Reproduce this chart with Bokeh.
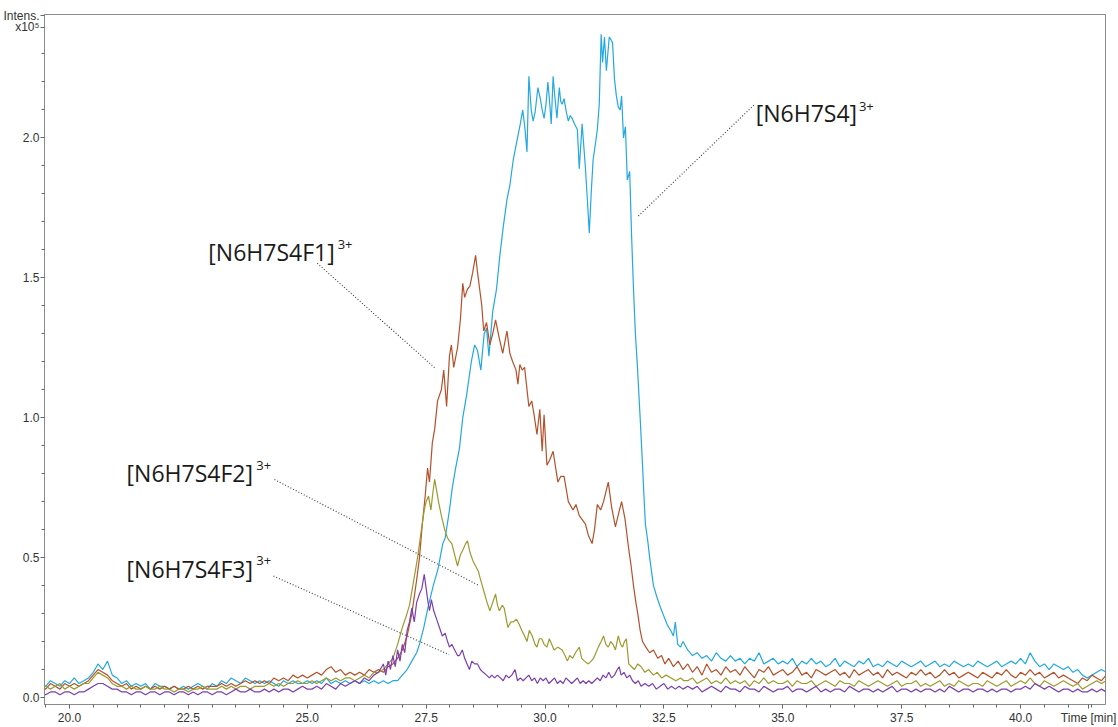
import numpy as np
from bokeh.plotting import figure
from bokeh.models import (Range1d, FixedTicker, PrintfTickFormatter,
                          Label, ColumnDataSource)
from bokeh.embed import file_html
from bokeh.resources import INLINE

# ---------------- data (intensity in units of 1e5, time in min) ----------------
TIME_PRE = np.arange(194, 265) / 10.0      # 19.4 .. 26.4 min sampling grid
TIME_POST = np.arange(330, 420) / 10.0     # 33.0 .. 41.9 min sampling grid

BLUE_PRE = [0.05, 0.04, 0.06, 0.05, 0.04, 0.06, 0.05, 0.07, 0.05, 0.06,
            0.07, 0.09, 0.12, 0.10, 0.13, 0.08, 0.07,
            0.05, 0.06, 0.04, 0.05, 0.04, 0.05, 0.03, 0.05, 0.04, 0.04,
            0.03, 0.04, 0.03, 0.04, 0.03, 0.04, 0.05, 0.04, 0.03, 0.05,
            0.04, 0.06, 0.05, 0.07, 0.06, 0.05, 0.07, 0.06, 0.05, 0.06,
            0.05, 0.06, 0.05, 0.04, 0.06, 0.05, 0.06, 0.05, 0.05, 0.06,
            0.05, 0.06, 0.05, 0.07, 0.05, 0.06, 0.05, 0.06, 0.05, 0.06,
            0.05, 0.06, 0.05, 0.06]
BLUE_PEAK = [(26.5, 0.05), (26.6, 0.06), (26.7, 0.05), (26.8, 0.06), (26.9, 0.06),
             (27.0, 0.08), (27.1, 0.10), (27.2, 0.13), (27.3, 0.16), (27.36, 0.19),
             (27.45, 0.25), (27.55, 0.33), (27.65, 0.40), (27.75, 0.46), (27.85, 0.55),
             (27.9, 0.57), (27.99, 0.67), (28.05, 0.75), (28.12, 0.82), (28.2, 0.89),
             (28.27, 1.00), (28.35, 1.08), (28.45, 1.20), (28.52, 1.26), (28.58, 1.24),
             (28.65, 1.17), (28.72, 1.30), (28.77, 1.32), (28.82, 1.22), (28.9, 1.38),
             (28.98, 1.46), (29.05, 1.58), (29.12, 1.68), (29.2, 1.78), (29.26, 1.83),
             (29.33, 1.92), (29.41, 1.99), (29.48, 2.05), (29.53, 2.10), (29.58, 2.03),
             (29.62, 1.95), (29.66, 2.22), (29.71, 2.10), (29.75, 2.06), (29.79, 2.09),
             (29.85, 2.18), (29.9, 2.14), (29.94, 2.10), (29.98, 2.07), (30.02, 2.12),
             (30.06, 2.20), (30.1, 2.12), (30.13, 2.05), (30.17, 2.22), (30.21, 2.14),
             (30.25, 2.07), (30.3, 2.18), (30.33, 2.13), (30.36, 2.12), (30.4, 2.14),
             (30.45, 2.09), (30.49, 2.06), (30.53, 2.08), (30.57, 2.07), (30.62, 2.05),
             (30.68, 2.03), (30.72, 1.89), (30.78, 2.05), (30.85, 1.89), (30.89, 1.78),
             (30.93, 1.66), (30.97, 1.80), (31.01, 1.92), (31.06, 1.98), (31.1, 2.03),
             (31.14, 2.12), (31.18, 2.37), (31.21, 2.27), (31.25, 2.36), (31.29, 2.24),
             (31.35, 2.36), (31.39, 2.35), (31.42, 2.34), (31.46, 2.21), (31.5, 2.15),
             (31.54, 2.11), (31.58, 2.10), (31.61, 2.15), (31.65, 2.00), (31.69, 2.04),
             (31.73, 1.85), (31.78, 1.88), (31.82, 1.65), (31.86, 1.46), (31.9, 1.30),
             (31.94, 1.19), (32.0, 1.00), (32.05, 0.83), (32.08, 0.72), (32.11, 0.62),
             (32.16, 0.56), (32.2, 0.50), (32.28, 0.40), (32.35, 0.36), (32.43, 0.32),
             (32.5, 0.29), (32.57, 0.26), (32.64, 0.24), (32.7, 0.22), (32.74, 0.27),
             (32.79, 0.19), (32.85, 0.18), (32.9, 0.20)]
BLUE_POST = [0.17, 0.15, 0.16, 0.14, 0.15, 0.13, 0.16, 0.14, 0.13, 0.15,
             0.13, 0.14, 0.12, 0.14, 0.13, 0.16, 0.12, 0.13, 0.14, 0.12,
             0.13, 0.12, 0.14, 0.11, 0.13, 0.12, 0.14, 0.12, 0.13, 0.11,
             0.12, 0.14, 0.11, 0.13, 0.12, 0.11, 0.13, 0.12, 0.14, 0.11,
             0.12, 0.11, 0.13, 0.12, 0.11, 0.13, 0.12, 0.11, 0.12, 0.13,
             0.11, 0.12, 0.13, 0.11, 0.12, 0.11, 0.13, 0.12, 0.11, 0.12,
             0.11, 0.13, 0.12, 0.11, 0.12, 0.13, 0.11, 0.12, 0.13, 0.12,
             0.14, 0.12, 0.16, 0.13, 0.11, 0.12, 0.10, 0.12, 0.11, 0.10,
             0.11, 0.09, 0.10, 0.08, 0.07, 0.08, 0.09, 0.10, 0.09, 0.10]

ORANGE_PRE = [0.04, 0.03, 0.05, 0.04, 0.03, 0.05, 0.04, 0.05, 0.04, 0.05,
              0.06, 0.08, 0.10, 0.09, 0.08, 0.06, 0.05,
              0.04, 0.05, 0.03, 0.04, 0.03, 0.04, 0.03, 0.04, 0.03, 0.04,
              0.03, 0.04, 0.03, 0.03, 0.04, 0.03, 0.04, 0.03, 0.04, 0.04,
              0.04, 0.05, 0.04, 0.05, 0.04, 0.05, 0.06, 0.05, 0.06, 0.05,
              0.06, 0.05, 0.07, 0.06, 0.07, 0.06, 0.08, 0.07, 0.08, 0.07,
              0.08, 0.09, 0.08, 0.10, 0.11, 0.09, 0.10, 0.08, 0.09, 0.08,
              0.09, 0.08, 0.10, 0.09]
ORANGE_PEAK = [(26.5, 0.10), (26.6, 0.09), (26.7, 0.11), (26.8, 0.12), (26.9, 0.14),
               (27.0, 0.17), (27.1, 0.22), (27.2, 0.30), (27.3, 0.42), (27.36, 0.50),
               (27.42, 0.62), (27.48, 0.72), (27.53, 0.82), (27.57, 0.77), (27.63, 0.91),
               (27.68, 0.96), (27.74, 1.06), (27.82, 1.10), (27.87, 1.17), (27.93, 1.04),
               (27.99, 1.22), (28.03, 1.26), (28.08, 1.18), (28.16, 1.25), (28.22, 1.35),
               (28.27, 1.48), (28.31, 1.43), (28.37, 1.46), (28.42, 1.47), (28.48, 1.52),
               (28.54, 1.58), (28.58, 1.52), (28.67, 1.40), (28.71, 1.31), (28.77, 1.34),
               (28.84, 1.26), (28.9, 1.30), (28.96, 1.35), (29.03, 1.29), (29.11, 1.23),
               (29.2, 1.31), (29.26, 1.23), (29.32, 1.20), (29.39, 1.17), (29.43, 1.12),
               (29.47, 1.19), (29.52, 1.17), (29.57, 1.18), (29.66, 1.04), (29.72, 1.06),
               (29.77, 1.01), (29.83, 0.94), (29.89, 1.03), (29.94, 0.88), (29.98, 1.01),
               (30.04, 0.83), (30.1, 0.85), (30.17, 0.88), (30.27, 0.77), (30.33, 0.79),
               (30.4, 0.79), (30.49, 0.70), (30.59, 0.67), (30.65, 0.69), (30.72, 0.65),
               (30.85, 0.62), (30.91, 0.58), (30.99, 0.55), (31.04, 0.60), (31.1, 0.69),
               (31.17, 0.67), (31.23, 0.70), (31.33, 0.77), (31.4, 0.68), (31.48, 0.61),
               (31.55, 0.66), (31.61, 0.70), (31.68, 0.64), (31.76, 0.53), (31.81, 0.47),
               (31.86, 0.40), (31.91, 0.34), (31.95, 0.30), (32.0, 0.24), (32.05, 0.20),
               (32.12, 0.18), (32.2, 0.16), (32.28, 0.17), (32.37, 0.14), (32.45, 0.15),
               (32.52, 0.12), (32.6, 0.14), (32.7, 0.11), (32.8, 0.13), (32.9, 0.10)]
ORANGE_POST = [0.12, 0.09, 0.11, 0.08, 0.12, 0.09, 0.10, 0.08, 0.11, 0.09,
               0.10, 0.08, 0.11, 0.09, 0.07, 0.10, 0.09, 0.11, 0.08, 0.09,
               0.10, 0.08, 0.09, 0.11, 0.08, 0.09, 0.07, 0.10, 0.09, 0.08,
               0.09, 0.10, 0.08, 0.09, 0.07, 0.10, 0.08, 0.09, 0.10, 0.08,
               0.09, 0.07, 0.10, 0.08, 0.09, 0.08, 0.07, 0.09, 0.08, 0.10,
               0.08, 0.09, 0.07, 0.08, 0.10, 0.08, 0.09, 0.07, 0.08, 0.09,
               0.08, 0.07, 0.09, 0.08, 0.07, 0.09, 0.08, 0.10, 0.08, 0.07,
               0.09, 0.08, 0.10, 0.08, 0.09, 0.07, 0.08, 0.09, 0.07, 0.08,
               0.07, 0.06, 0.05, 0.07, 0.06, 0.08, 0.07, 0.06, 0.08, 0.07]

OLIVE_PRE = [0.03, 0.04, 0.03, 0.04, 0.05, 0.03, 0.04, 0.03, 0.04, 0.05,
             0.05, 0.07, 0.09, 0.08, 0.07, 0.05, 0.04,
             0.04, 0.03, 0.04, 0.03, 0.03, 0.04, 0.03, 0.03, 0.04, 0.03,
             0.03, 0.02, 0.03, 0.03, 0.02, 0.03, 0.03, 0.04, 0.03, 0.03,
             0.03, 0.04, 0.03, 0.04, 0.03, 0.04, 0.04, 0.03, 0.04, 0.04,
             0.04, 0.05, 0.04, 0.05, 0.04, 0.05, 0.05, 0.06, 0.05, 0.05,
             0.06, 0.05, 0.06, 0.07, 0.06, 0.07, 0.06, 0.07, 0.07, 0.06,
             0.07, 0.08, 0.07, 0.09]
OLIVE_PEAK = [(26.5, 0.09), (26.6, 0.10), (26.7, 0.12), (26.8, 0.14), (26.9, 0.19),
              (26.95, 0.22), (27.0, 0.25), (27.08, 0.29), (27.15, 0.33), (27.22, 0.40),
              (27.32, 0.50), (27.4, 0.60), (27.46, 0.67), (27.5, 0.70), (27.55, 0.72),
              (27.6, 0.67), (27.64, 0.73), (27.68, 0.78), (27.72, 0.74), (27.76, 0.70),
              (27.82, 0.65), (27.89, 0.60), (27.95, 0.57), (27.99, 0.56), (28.04, 0.55),
              (28.1, 0.51), (28.16, 0.47), (28.22, 0.51), (28.28, 0.53), (28.33, 0.55),
              (28.37, 0.56), (28.42, 0.52), (28.48, 0.49), (28.54, 0.47), (28.6, 0.45),
              (28.63, 0.43), (28.68, 0.40), (28.73, 0.37), (28.78, 0.34), (28.84, 0.31),
              (28.9, 0.34), (28.96, 0.37), (29.0, 0.33), (29.04, 0.31), (29.1, 0.33),
              (29.14, 0.32), (29.22, 0.25), (29.28, 0.27), (29.33, 0.27), (29.4, 0.28),
              (29.46, 0.26), (29.51, 0.24), (29.57, 0.22), (29.62, 0.20), (29.67, 0.24),
              (29.73, 0.22), (29.79, 0.19), (29.83, 0.18), (29.88, 0.21), (29.93, 0.21),
              (29.98, 0.19), (30.04, 0.18), (30.09, 0.21), (30.14, 0.19), (30.19, 0.17),
              (30.27, 0.18), (30.36, 0.17), (30.42, 0.15), (30.47, 0.13), (30.52, 0.15),
              (30.58, 0.14), (30.64, 0.16), (30.72, 0.18), (30.77, 0.14), (30.83, 0.13),
              (30.91, 0.12), (30.97, 0.13), (31.02, 0.14), (31.07, 0.16), (31.12, 0.18),
              (31.18, 0.20), (31.23, 0.22), (31.28, 0.19), (31.33, 0.18), (31.38, 0.20),
              (31.43, 0.19), (31.48, 0.17), (31.54, 0.22), (31.59, 0.19), (31.63, 0.18),
              (31.67, 0.20), (31.71, 0.21), (31.76, 0.12), (31.82, 0.11), (31.88, 0.10),
              (31.95, 0.12), (32.02, 0.11), (32.1, 0.09), (32.18, 0.10), (32.28, 0.08),
              (32.36, 0.09), (32.45, 0.07), (32.55, 0.08), (32.65, 0.07), (32.75, 0.06),
              (32.85, 0.07), (32.92, 0.06)]
OLIVE_POST = [0.06, 0.07, 0.05, 0.06, 0.07, 0.05, 0.06, 0.05, 0.07, 0.05,
              0.06, 0.05, 0.06, 0.04, 0.06, 0.05, 0.07, 0.05, 0.06, 0.05,
              0.05, 0.06, 0.04, 0.06, 0.05, 0.05, 0.06, 0.04, 0.05, 0.06,
              0.05, 0.04, 0.06, 0.05, 0.05, 0.04, 0.06, 0.05, 0.04, 0.05,
              0.06, 0.05, 0.04, 0.05, 0.06, 0.04, 0.05, 0.05, 0.06, 0.04,
              0.05, 0.04, 0.05, 0.06, 0.04, 0.05, 0.04, 0.06, 0.05, 0.04,
              0.05, 0.05, 0.04, 0.06, 0.05, 0.04, 0.05, 0.06, 0.04, 0.05,
              0.06, 0.05, 0.07, 0.05, 0.04, 0.06, 0.05, 0.04, 0.05, 0.06,
              0.05, 0.04, 0.05, 0.03, 0.04, 0.05, 0.06, 0.05, 0.06, 0.05]

PURPLE_PRE = [0.02, 0.01, 0.02, 0.02, 0.01, 0.02, 0.02, 0.01, 0.02, 0.02,
              0.03, 0.04, 0.05, 0.05, 0.04, 0.03, 0.03,
              0.02, 0.02, 0.01, 0.02, 0.02, 0.01, 0.02, 0.02, 0.01, 0.02,
              0.02, 0.01, 0.02, 0.02, 0.01, 0.02, 0.01, 0.02, 0.02, 0.01,
              0.02, 0.02, 0.01, 0.02, 0.03, 0.02, 0.02, 0.03, 0.02, 0.02,
              0.03, 0.02, 0.03, 0.02, 0.03, 0.03, 0.02, 0.03, 0.04, 0.03,
              0.03, 0.04, 0.03, 0.05, 0.04, 0.03, 0.05, 0.04, 0.05, 0.06,
              0.05, 0.07, 0.06, 0.08]
PURPLE_PEAK = [(26.5, 0.09), (26.6, 0.12), (26.65, 0.08), (26.7, 0.13), (26.75, 0.10),
               (26.8, 0.15), (26.85, 0.11), (26.9, 0.17), (26.95, 0.13), (27.0, 0.19),
               (27.05, 0.16), (27.1, 0.24), (27.15, 0.27), (27.2, 0.32), (27.25, 0.27),
               (27.3, 0.34), (27.36, 0.37), (27.41, 0.39), (27.46, 0.44), (27.5, 0.39),
               (27.54, 0.34), (27.57, 0.31), (27.61, 0.35), (27.66, 0.31), (27.72, 0.28),
               (27.78, 0.25), (27.84, 0.22), (27.9, 0.23), (27.95, 0.20), (27.99, 0.18),
               (28.04, 0.19), (28.1, 0.17), (28.16, 0.15), (28.2, 0.15), (28.26, 0.17),
               (28.31, 0.14), (28.36, 0.12), (28.41, 0.10), (28.46, 0.13), (28.52, 0.12),
               (28.58, 0.12), (28.64, 0.10), (28.7, 0.09), (28.77, 0.08), (28.83, 0.07),
               (28.88, 0.08), (28.94, 0.07), (29.0, 0.08), (29.06, 0.07), (29.12, 0.06),
               (29.18, 0.08), (29.24, 0.07), (29.3, 0.08), (29.37, 0.10), (29.42, 0.06),
               (29.48, 0.07), (29.54, 0.06), (29.6, 0.07), (29.66, 0.08), (29.72, 0.06),
               (29.78, 0.07), (29.84, 0.05), (29.9, 0.07), (29.96, 0.06), (30.02, 0.07),
               (30.08, 0.05), (30.14, 0.06), (30.2, 0.07), (30.26, 0.05), (30.32, 0.06),
               (30.38, 0.05), (30.44, 0.07), (30.5, 0.06), (30.56, 0.05), (30.62, 0.06),
               (30.68, 0.07), (30.74, 0.05), (30.8, 0.06), (30.86, 0.05), (30.92, 0.06),
               (30.98, 0.05), (31.04, 0.06), (31.1, 0.07), (31.16, 0.06), (31.22, 0.08),
               (31.28, 0.07), (31.34, 0.09), (31.4, 0.07), (31.46, 0.08), (31.52, 0.10),
               (31.56, 0.11), (31.6, 0.08), (31.66, 0.09), (31.72, 0.07), (31.78, 0.08),
               (31.84, 0.06), (31.9, 0.05), (31.96, 0.06), (32.02, 0.04), (32.1, 0.05),
               (32.18, 0.04), (32.26, 0.05), (32.34, 0.03), (32.42, 0.04), (32.5, 0.05),
               (32.58, 0.03), (32.66, 0.04), (32.74, 0.03), (32.82, 0.04), (32.9, 0.03)]
PURPLE_POST = [0.04, 0.03, 0.04, 0.02, 0.03, 0.04, 0.03, 0.02, 0.04, 0.03,
               0.03, 0.02, 0.04, 0.03, 0.03, 0.02, 0.04, 0.03, 0.02, 0.03,
               0.03, 0.04, 0.02, 0.03, 0.03, 0.02, 0.03, 0.04, 0.02, 0.03,
               0.02, 0.03, 0.03, 0.02, 0.04, 0.03, 0.02, 0.03, 0.03, 0.02,
               0.03, 0.02, 0.03, 0.04, 0.02, 0.03, 0.03, 0.02, 0.03, 0.02,
               0.03, 0.03, 0.02, 0.03, 0.02, 0.04, 0.03, 0.02, 0.03, 0.03,
               0.02, 0.03, 0.03, 0.02, 0.03, 0.02, 0.03, 0.03, 0.02, 0.03,
               0.03, 0.04, 0.03, 0.05, 0.04, 0.03, 0.04, 0.03, 0.02, 0.03,
               0.03, 0.02, 0.03, 0.02, 0.02, 0.03, 0.02, 0.03, 0.02, 0.03]

SERIES_NAMES = ["[N6H7S4]", "[N6H7S4F1]", "[N6H7S4F2]", "[N6H7S4F3]"]
CHARGE = "3+"

X_MAJOR = [20.0, 22.5, 25.0, 27.5, 30.0, 32.5, 35.0, 37.5, 40.0]
Y_MAJOR = [0.0, 0.5, 1.0, 1.5, 2.0]
X_TITLE, X_TITLE_AT = "Time [min]", 41.43
Y_TITLE, Y_TITLE_AT = "Intens.", 2.437
Y_SCALE, Y_SCALE_AT = "x10\u2075", 2.395

# ---------------- styling / layout constants ----------------
COLORS = ["#22a8e2", "#b5502a", "#9c9a2e", "#7b3fae"]
AXIS_COLOR = "#8a8a8a"
TEXT_COLOR = "#333333"
TICK_FONT = "Liberation Sans"
ANNOT_FONT = "Open Sans"

# label anchor positions (data coords): main text start, baseline; superscript start, baseline
LABEL_POS = [(34.43, 2.089, 36.60, 2.112),
             (22.92, 1.591, 25.64, 1.619),
             (21.20, 0.801, 23.93, 0.829),
             (21.20, 0.459, 23.93, 0.488)]
# leader lines x0, y0, x1, y1 (data coords)
LEADERS = [(34.39, 2.117, 31.95, 1.719),
           (25.21, 1.552, 27.71, 1.174),
           (24.31, 0.779, 28.59, 0.402),
           (24.29, 0.434, 27.98, 0.153)]

# ---------------- figure ----------------
p = figure(width=1118, height=727, output_backend="svg", toolbar_location=None,
           x_range=Range1d(19.475, 41.785), y_range=Range1d(-0.025, 2.441),
           min_border_left=43, min_border_right=13, min_border_top=14,
           min_border_bottom=20, background_fill_color="white",
           border_fill_color="white")
p.grid.visible = False
p.outline_line_color = AXIS_COLOR
p.outline_line_width = 1

x_minor = [m / 2 for m in range(39, 84) if (m / 2) not in X_MAJOR]
y_minor = [m / 10 for m in range(0, 24) if (m / 10) not in Y_MAJOR]
p.xaxis[0].ticker = FixedTicker(ticks=X_MAJOR + [X_TITLE_AT], minor_ticks=x_minor)
p.yaxis[0].ticker = FixedTicker(ticks=Y_MAJOR + [Y_SCALE_AT, Y_TITLE_AT], minor_ticks=y_minor)
p.xaxis[0].major_label_overrides = {X_TITLE_AT: X_TITLE, str(X_TITLE_AT): X_TITLE}
p.yaxis[0].major_label_overrides = {Y_TITLE_AT: Y_TITLE, str(Y_TITLE_AT): Y_TITLE,
                                    Y_SCALE_AT: Y_SCALE, str(Y_SCALE_AT): Y_SCALE}

for ax in (p.xaxis[0], p.yaxis[0]):
    ax.formatter = PrintfTickFormatter(format="%.1f")
    ax.axis_line_color = AXIS_COLOR
    ax.major_tick_line_color = "#666666"
    ax.minor_tick_line_color = "#666666"
    ax.major_tick_in = 0
    ax.major_tick_out = 4
    ax.minor_tick_in = 0
    ax.minor_tick_out = 3
    ax.axis_label_standoff = 0
    ax.major_label_text_font = TICK_FONT
    ax.major_label_text_font_size = "12px"
    ax.major_label_text_color = TEXT_COLOR
p.xaxis.major_label_standoff = 2
p.yaxis.major_label_standoff = 1

series = [(BLUE_PRE, BLUE_PEAK, BLUE_POST),
          (ORANGE_PRE, ORANGE_PEAK, ORANGE_POST),
          (OLIVE_PRE, OLIVE_PEAK, OLIVE_POST),
          (PURPLE_PRE, PURPLE_PEAK, PURPLE_POST)]
for (pre, peak, post), color in zip(series, COLORS):
    t = np.concatenate([TIME_PRE, [q[0] for q in peak], TIME_POST])
    v = np.concatenate([pre, [q[1] for q in peak], post])
    p.line(t, v, line_color=color, line_width=1.2)

lsrc = ColumnDataSource(dict(x0=[l[0] for l in LEADERS], y0=[l[1] for l in LEADERS],
                             x1=[l[2] for l in LEADERS], y1=[l[3] for l in LEADERS]))
p.segment(x0="x0", y0="y0", x1="x1", y1="y1", source=lsrc,
          line_color="#444444", line_width=1.2, line_dash="1 2")

for name, (mx, my, sx, sy) in zip(SERIES_NAMES, LABEL_POS):
    p.add_layout(Label(x=mx, y=my, text=name, text_font=ANNOT_FONT,
                       text_font_size="23px", text_color="#1a1a1a",
                       text_baseline="alphabetic", text_align="left"))
    p.add_layout(Label(x=sx, y=sy, text=CHARGE, text_font=ANNOT_FONT,
                       text_font_size="13px", text_color="#1a1a1a",
                       text_baseline="alphabetic", text_align="left"))

open("out.html", "w").write(file_html(p, INLINE))
